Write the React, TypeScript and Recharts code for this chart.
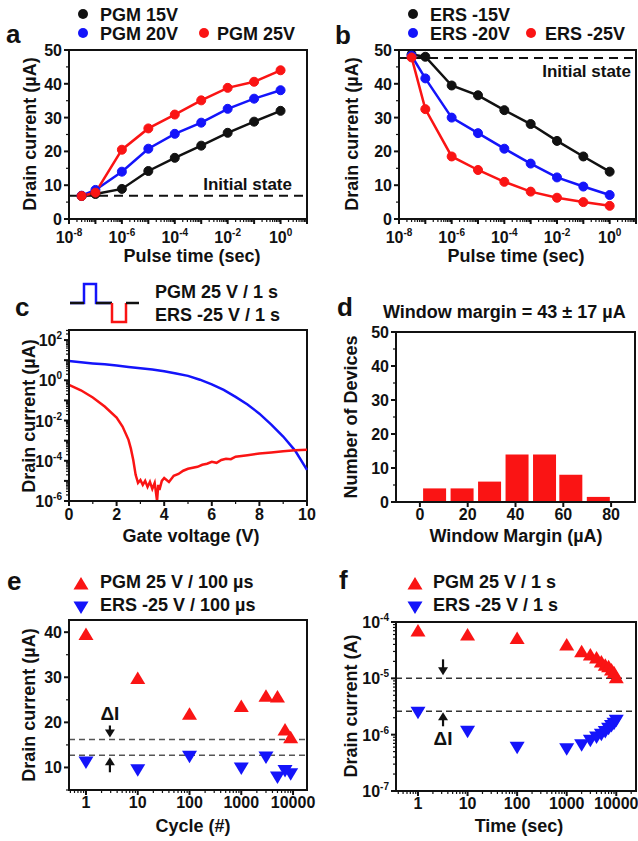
import React from 'react'
import {
  ComposedChart,
  ScatterChart,
  BarChart,
  Line,
  Scatter,
  Bar,
  XAxis,
  YAxis,
  ReferenceLine,
  ReferenceArea,
  ReferenceDot,
} from 'recharts'

const FONT = "'Liberation Sans', Arial, Helvetica, sans-serif"
const RED = '#fa1414'
const BLUE = '#1414fa'
const BLACK = '#111'

// ---- panel a / b : pulse time sweeps ----
const pulseTimes = [3e-8, 1e-7, 1e-6, 1e-5, 1e-4, 1e-3, 1e-2, 1e-1, 1]
const pgmNames = ['PGM 15V', 'PGM 20V', 'PGM 25V']
const pgm15 = [6.8, 7.4, 8.9, 14.2, 18.1, 21.7, 25.5, 28.8, 32.0]
const pgm20 = [6.9, 8.6, 14.0, 20.8, 25.2, 28.5, 32.6, 35.6, 38.1]
const pgm25 = [6.8, 7.8, 20.5, 26.8, 30.9, 35.1, 38.8, 40.6, 44.0]
const initialPgm = 6.9

const ersNames = ['ERS -15V', 'ERS -20V', 'ERS -25V']
const ers15 = [48.7, 48.0, 39.5, 36.6, 32.2, 28.1, 23.1, 18.5, 14.0]
const ers20 = [48.3, 41.6, 30.0, 25.4, 20.8, 16.4, 12.3, 9.6, 7.1]
const ers25 = [47.8, 32.5, 18.5, 14.5, 11.0, 8.1, 6.3, 5.0, 3.9]
const initialErs = 47.6

// ---- panel c : transfer curves (µA) ----
const pgmGate = [0, 0.5, 1, 1.5, 2, 2.5, 3, 3.5, 4, 4.5, 5, 5.5, 6, 6.5, 7, 7.5, 8, 8.5, 9, 9.5, 10]
const pgmCurrent = [9.1, 7.9, 6.9, 6.2, 5.4, 4.6, 4.0, 3.4, 2.8, 2.2, 1.66, 1.07, 0.63, 0.33, 0.15, 0.063, 0.022, 0.0063, 0.0016, 3.2e-4, 3.5e-5]
const ersGate = [
  0, 0.5, 1, 1.5, 2, 2.25, 2.5, 2.6, 2.7, 2.8, 2.9, 3.0, 3.1, 3.2, 3.3, 3.4, 3.5, 3.6, 3.7, 3.75, 3.8, 3.9,
  4.0, 4.2, 4.4, 4.6, 4.8, 5.0, 5.2, 5.4, 5.6, 5.8, 6.0, 6.2, 6.4, 6.6, 6.8, 7.0, 7.5, 8.0, 8.5, 9.0, 9.5, 10,
]
const ersCurrent = [
  0.59, 0.32, 0.14, 0.05, 0.014, 0.005, 1.1e-3, 4e-4, 1.1e-4, 2e-5, 7.9e-6, 1.1e-5, 6.3e-6, 1e-5, 5e-6, 8.9e-6,
  4e-6, 7.9e-6, 1e-6, 6.3e-6, 3.5e-6, 1e-5, 1.4e-5, 8.9e-6, 1.8e-5, 2.2e-5, 3.2e-5, 4e-5, 4.5e-5, 5e-5, 6.3e-5,
  7.1e-5, 8.9e-5, 7.9e-5, 1.1e-4, 1.26e-4, 1.2e-4, 1.6e-4, 1.9e-4, 2.3e-4, 2.6e-4, 3e-4, 3.3e-4, 3.5e-4,
]
const waveNames = ['PGM 25 V / 1 s', 'ERS -25 V / 1 s']

// ---- panel d : window margin histogram ----
const marginBins = [6, 17.5, 29, 40.5, 52, 63, 74.5]
const deviceCounts = [4, 4, 6, 14, 14, 8, 1.5]

// ---- panel e : endurance ----
const cycles = [1, 10, 100, 1000, 3000, 5000, 7000, 9000]
const pgmCycle = [39.5, 29.7, 21.8, 23.5, 25.8, 25.6, 18.3, 16.6]
const ersCycle = [11.2, 9.5, 12.5, 9.9, 12.3, 7.9, 9.3, 8.6]
const enduranceNames = ['PGM 25 V / 100 µs', 'ERS -25 V / 100 µs']
const enduranceLevels = [16.2, 12.7]

// ---- panel f : retention (A) ----
const times = [1, 10, 100, 1000, 2000, 3000, 4000, 5000, 6000, 7000, 8000, 9000, 10000]
const pgmRet = [6.9e-5, 5.9e-5, 5.1e-5, 3.9e-5, 2.95e-5, 2.6e-5, 2.3e-5, 1.95e-5, 1.7e-5, 1.6e-5, 1.4e-5, 1.25e-5, 1.02e-5]
const ersRet = [2.5e-6, 1.15e-6, 6e-7, 5.6e-7, 6.6e-7, 8e-7, 9.1e-7, 1.02e-6, 1.14e-6, 1.3e-6, 1.45e-6, 1.6e-6, 1.8e-6]
const retentionNames = ['PGM 25 V / 1 s', 'ERS -25 V / 1 s']
const retentionLevels = [1e-5, 2.6e-6]

// ---- helpers ----
const sweepRows = pulseTimes.map((t, i) => ({
  t, p15: pgm15[i], p20: pgm20[i], p25: pgm25[i], e15: ers15[i], e20: ers20[i], e25: ers25[i],
}))
const pgmCurve = pgmGate.map((v, i) => ({ v, i: pgmCurrent[i] }))
const ersCurve = ersGate.map((v, i) => ({ v, i: ersCurrent[i] }))
const histRows = marginBins.map((m, i) => ({ m, n: deviceCounts[i] }))
const pgmCyclePts = cycles.map((x, i) => ({ x, y: pgmCycle[i] }))
const ersCyclePts = cycles.map((x, i) => ({ x, y: ersCycle[i] }))
const pgmRetPts = times.map((x, i) => ({ x, y: pgmRet[i] }))
const ersRetPts = times.map((x, i) => ({ x, y: ersRet[i] }))

const logTicks = (lo: number, hi: number, min: number, max: number) => {
  const out: number[] = []
  for (let e = lo; e <= hi; e++) for (let k = 1; k <= 9; k++) out.push(k * 10 ** e)
  return out.filter((v) => v >= min * 0.999 && v <= max * 1.001)
}
const decade = (v: number) => {
  const e = Math.round(Math.log10(v))
  return Math.abs(v / 10 ** e - 1) < 1e-9 ? e : null
}
const pow10 = (v: number) => {
  const e = decade(v)
  return [<tspan key="b">10</tspan>, <tspan key="e" dy={-7} fontSize={10}>{e}</tspan>]
}

const tickText = { fontSize: 16, fontWeight: 700, fontFamily: FONT, fill: BLACK }

type Ax = { major: (v: number) => boolean; big?: (v: number) => boolean; label: (v: number) => React.ReactNode; dy?: number }

const bottomTick = (a: Ax) => (p: any) => {
  const v = p.payload.value
  const m = a.major(v)
  const long = m || (a.big ? a.big(v) : false)
  return (
    <g>
      <line x1={p.x} x2={p.x} y1={p.y} y2={p.y + (long ? 5 : 3)} stroke={BLACK} strokeWidth={long ? 2 : 1.2} />
      {m && (
        <text x={p.x} y={p.y + (a.dy ?? 18)} textAnchor="middle" {...tickText}>
          {a.label(v)}
        </text>
      )}
    </g>
  )
}

const leftTick = (a: Ax) => (p: any) => {
  const v = p.payload.value
  const m = a.major(v)
  const long = m || (a.big ? a.big(v) : false)
  return (
    <g>
      <line x1={p.x} x2={p.x - (long ? 5 : 3)} y1={p.y} y2={p.y} stroke={BLACK} strokeWidth={long ? 2 : 1.2} />
      {m && (
        <text x={p.x - 7} y={p.y + 6} textAnchor="end" {...tickText}>
          {a.label(v)}
        </text>
      )}
    </g>
  )
}

const axisLine = { stroke: BLACK, strokeWidth: 2 }
const linTicks = (lo: number, hi: number, step: number) => {
  const out: number[] = []
  for (let v = lo; v <= hi + 1e-9; v += step) out.push(v)
  return out
}
const every = (n: number) => (v: number) => Math.abs(v / n - Math.round(v / n)) < 1e-9

const frame = (x: [number, number], y: [number, number]) => (
  <ReferenceArea x1={x[0]} x2={x[1]} y1={y[0]} y2={y[1]} fill="none" stroke={BLACK} strokeWidth={2} ifOverflow="visible" />
)

const triangle = (color: string, up: boolean) => (p: any) => {
  const s = up ? 1 : -1
  return (
    <path
      d={`M${p.cx},${p.cy - 7 * s} L${p.cx + 7.5},${p.cy + 5.5 * s} L${p.cx - 7.5},${p.cy + 5.5 * s} Z`}
      fill={color}
    />
  )
}

const arrow = (down: boolean, len: number, gap: number, textDy?: number) => (p: any) => {
  const s = down ? -1 : 1
  const tip = p.cy + s * gap
  const tail = p.cy + s * (gap + len)
  return (
    <g>
      <line x1={p.cx} x2={p.cx} y1={tail} y2={tip + s * 5} stroke={BLACK} strokeWidth={2.2} />
      <path d={`M${p.cx - 5},${tip + s * 8} L${p.cx + 5},${tip + s * 8} L${p.cx},${tip} Z`} fill={BLACK} />
      {textDy !== undefined && (
        <text x={p.cx} y={p.cy + textDy} textAnchor="middle" fontSize={19} fontWeight={700} fontFamily={FONT} fill={BLACK}>
          ΔI
        </text>
      )}
    </g>
  )
}

// ---- panels ----
const sweepDomain: [number, number] = [1e-8, 10]
const sweepTicks = logTicks(-8, 1, 1e-8, 10)
const sweepAx: Ax = {
  major: (v) => { const e = decade(v); return e !== null && e % 2 === 0 && e <= 0 },
  big: (v) => decade(v) !== null,
  label: pow10,
  dy: 24,
}
const currentAx: Ax = { major: every(10), label: (v) => v, big: () => false }

function SweepPanel({ keys, initial, above }: { keys: string[]; initial: number; above: boolean }) {
  const colors = [BLACK, BLUE, RED]
  return (
    <ComposedChart width={320} height={270} data={sweepRows} margin={{ top: 50, right: above ? 13 : 2, left: 0, bottom: 0 }}>
      <XAxis type="number" dataKey="t" scale="log" domain={sweepDomain} ticks={sweepTicks} interval={0}
        allowDataOverflow tickSize={0} tickMargin={0} height={51} tickLine={false} axisLine={axisLine} tick={bottomTick(sweepAx)} />
      <YAxis type="number" domain={[0, 50]} ticks={linTicks(0, 50, 5)} interval={0} width={above ? 69 : 81}
        tickSize={0} tickMargin={0} tickLine={false} axisLine={axisLine} tick={leftTick(currentAx)} />
      <ReferenceLine y={initial} stroke={BLACK} strokeWidth={2} strokeDasharray="9 6"
        label={(p: any) => (
          <text x={p.viewBox.x + p.viewBox.width - (above ? 15 : 5)} y={p.viewBox.y + (above ? -6 : 19)}
            textAnchor="end" fontSize={17} fontWeight={700} fontFamily={FONT} fill={BLACK}>
            Initial state
          </text>
        )} />
      {keys.map((k, i) => (
        <Line key={k} type="linear" dataKey={k} stroke={colors[i]} strokeWidth={2.5}
          dot={{ r: 4.5, fill: colors[i], stroke: colors[i], strokeWidth: 1 }} isAnimationActive={false} />
      ))}
      {frame(sweepDomain, [0, 50])}
    </ComposedChart>
  )
}

const gateDomain: [number, number] = [1e-6, 316]
const gateAx: Ax = {
  major: (v) => { const e = decade(v); return e !== null && e % 2 === 0 },
  big: (v) => decade(v) !== null,
  label: pow10,
}

function PanelC() {
  return (
    <ComposedChart width={320} height={270} margin={{ top: 60, right: 13, left: 0, bottom: 0 }}>
      <XAxis type="number" dataKey="v" domain={[0, 10]} ticks={linTicks(0, 10, 1)} interval={0} height={39}
        tickSize={0} tickMargin={0} tickLine={false} axisLine={axisLine}
        tick={bottomTick({ major: every(2), label: (v) => v, dy: 19 })} />
      <YAxis type="number" dataKey="i" scale="log" domain={gateDomain} ticks={logTicks(-6, 2, 1e-6, 316)} interval={0}
        allowDataOverflow width={69} tickSize={0} tickMargin={0} tickLine={false} axisLine={axisLine} tick={leftTick(gateAx)} />
      <Line data={pgmCurve} type="linear" dataKey="i" stroke={BLUE} strokeWidth={2.5} dot={false} isAnimationActive={false} />
      <Line data={ersCurve} type="linear" dataKey="i" stroke={RED} strokeWidth={2.5} dot={false} isAnimationActive={false} />
      {frame([0, 10], gateDomain)}
    </ComposedChart>
  )
}

function PanelD() {
  return (
    <BarChart width={320} height={270} data={histRows} margin={{ top: 62, right: 3, left: 0, bottom: 0 }}>
      <XAxis type="number" dataKey="m" domain={[-10, 90]} ticks={[0, 20, 40, 60, 80]} interval={0} height={38}
        tickSize={0} tickMargin={0} tickLine={false} axisLine={axisLine}
        tick={bottomTick({ major: () => true, label: (v) => v, dy: 18 })} />
      <YAxis type="number" domain={[0, 50]} ticks={linTicks(0, 50, 5)} interval={0} width={78}
        tickSize={0} tickMargin={0} tickLine={false} axisLine={axisLine} tick={leftTick(currentAx)} />
      <Bar dataKey="n" fill={RED} barSize={23} isAnimationActive={false} />
      {frame([-10, 90], [0, 50])}
    </BarChart>
  )
}

const cycleDomain: [number, number] = [0.47, 18600]
const decadeAx: Ax = { major: (v) => decade(v) !== null, label: (v) => v, dy: 18 }

function PanelE() {
  return (
    <ScatterChart width={320} height={271} margin={{ top: 50, right: 13, left: 0, bottom: 0 }}>
      <XAxis type="number" dataKey="x" scale="log" domain={cycleDomain} ticks={logTicks(-1, 4, 0.47, 18600)} interval={0}
        allowDataOverflow height={51} tickSize={0} tickMargin={0} tickLine={false} axisLine={axisLine} tick={bottomTick(decadeAx)} />
      <YAxis type="number" dataKey="y" domain={[5, 42.7]} ticks={linTicks(5, 40, 5)} interval={0} allowDataOverflow width={69}
        tickSize={0} tickMargin={0} tickLine={false} axisLine={axisLine} tick={leftTick(currentAx)} />
      {enduranceLevels.map((y) => (
        <ReferenceLine key={y} y={y} stroke="#555" strokeWidth={1.5} strokeDasharray="6 4" />
      ))}
      <ReferenceDot x={2.9} y={enduranceLevels[0]} shape={arrow(true, 12, 2, -19)} />
      <ReferenceDot x={2.9} y={enduranceLevels[1]} shape={arrow(false, 15, 2)} />
      <Scatter data={pgmCyclePts} shape={triangle(RED, true)} isAnimationActive={false} />
      <Scatter data={ersCyclePts} shape={triangle(BLUE, false)} isAnimationActive={false} />
      {frame(cycleDomain, [5, 42.7])}
    </ScatterChart>
  )
}

const timeDomain: [number, number] = [0.36, 25000]
const retDomain: [number, number] = [1e-7, 1e-4]

function PanelF() {
  return (
    <ScatterChart width={320} height={271} margin={{ top: 52, right: 2, left: 0, bottom: 0 }}>
      <XAxis type="number" dataKey="x" scale="log" domain={timeDomain} ticks={logTicks(-1, 4, 0.36, 25000)} interval={0}
        allowDataOverflow height={50} tickSize={0} tickMargin={0} tickLine={false} axisLine={axisLine} tick={bottomTick(decadeAx)} />
      <YAxis type="number" dataKey="y" scale="log" domain={retDomain} ticks={logTicks(-7, -4, 1e-7, 1e-4)} interval={0}
        allowDataOverflow width={78} tickSize={0} tickMargin={0} tickLine={false} axisLine={axisLine}
        tick={leftTick({ major: (v) => decade(v) !== null, label: pow10 })} />
      {retentionLevels.map((y) => (
        <ReferenceLine key={y} y={y} stroke="#333" strokeWidth={1.5} strokeDasharray="6 4" />
      ))}
      <ReferenceDot x={3.2} y={retentionLevels[0]} shape={arrow(true, 16, 3)} />
      <ReferenceDot x={3.2} y={retentionLevels[1]} shape={arrow(false, 14, 1, 34)} />
      <Scatter data={pgmRetPts} shape={triangle(RED, true)} isAnimationActive={false} />
      <Scatter data={ersRetPts} shape={triangle(BLUE, false)} isAnimationActive={false} />
      {frame(timeDomain, retDomain)}
    </ScatterChart>
  )
}

// ---- text, legends and titles ----
function Overlay() {
  const t = { fontFamily: FONT, fontWeight: 700, fill: BLACK } as const
  const yTitle = (x: number, y: number, s: string) => (
    <text transform={`translate(${x},${y}) rotate(-90)`} textAnchor="middle" fontSize={18} {...t}>{s}</text>
  )
  const xTitle = (x: number, y: number, s: string) => (
    <text x={x} y={y} textAnchor="middle" fontSize={18} {...t}>{s}</text>
  )
  const tri = (cx: number, cy: number, color: string, up: boolean) => triangle(color, up)({ cx, cy })
  return (
    <svg width={638} height={841} style={{ position: 'absolute', left: 0, top: 0, pointerEvents: 'none' }}>
      {/* panel letters */}
      <text x={6} y={43} fontSize={26} {...t}>a</text>
      <text x={335} y={44} fontSize={26} {...t}>b</text>
      <text x={15} y={316} fontSize={26} {...t}>c</text>
      <text x={337} y={316} fontSize={26} {...t}>d</text>
      <text x={7} y={590} fontSize={26} {...t}>e</text>
      <text x={339} y={589} fontSize={26} {...t}>f</text>

      {/* legends a, b */}
      <circle cx={83} cy={14} r={5} fill={BLACK} />
      <text x={100} y={21} fontSize={18} {...t}>{pgmNames[0]}</text>
      <circle cx={83} cy={33} r={5} fill={BLUE} />
      <text x={100} y={40} fontSize={18} {...t}>{pgmNames[1]}</text>
      <circle cx={204} cy={33} r={5} fill={RED} />
      <text x={217} y={40} fontSize={18} {...t}>{pgmNames[2]}</text>

      <circle cx={413} cy={14} r={5} fill={BLACK} />
      <text x={430} y={21} fontSize={18} {...t}>{ersNames[0]}</text>
      <circle cx={413} cy={33} r={5} fill={BLUE} />
      <text x={430} y={40} fontSize={18} {...t}>{ersNames[1]}</text>
      <circle cx={531} cy={33} r={5} fill={RED} />
      <text x={545} y={40} fontSize={18} {...t}>{ersNames[2]}</text>

      {/* panel c waveform legend */}
      <polyline points="70,303 84,303 84,284 96,284 96,303 112,303" fill="none" stroke={BLUE} strokeWidth={2.5} />
      <polyline points="70,303 84,303" fill="none" stroke={BLACK} strokeWidth={2.5} />
      <polyline points="96,303 112,303" fill="none" stroke={BLACK} strokeWidth={2.5} />
      <polyline points="112,303 112,322 126,322 126,303" fill="none" stroke={RED} strokeWidth={2.5} />
      <polyline points="126,303 139,303" fill="none" stroke={BLACK} strokeWidth={2.5} />
      <text x={155} y={298} fontSize={18} {...t}>{waveNames[0]}</text>
      <text x={155} y={321} fontSize={18} {...t}>{waveNames[1]}</text>

      {/* panel d title */}
      <text x={383} y={318} fontSize={18} {...t}>Window margin = 43 ± 17 µA</text>

      {/* legends e, f */}
      {tri(81, 584, RED, true)}
      <text x={100} y={588} fontSize={18} {...t}>{enduranceNames[0]}</text>
      {tri(81, 607, BLUE, false)}
      <text x={100} y={611} fontSize={18} {...t}>{enduranceNames[1]}</text>
      {tri(415, 584, RED, true)}
      <text x={433} y={588} fontSize={18} {...t}>{retentionNames[0]}</text>
      {tri(415, 607, BLUE, false)}
      <text x={433} y={611} fontSize={18} {...t}>{retentionNames[1]}</text>

      {/* axis titles */}
      {xTitle(192, 262, 'Pulse time (sec)')}
      {xTitle(516, 262, 'Pulse time (sec)')}
      {xTitle(191, 542, 'Gate voltage (V)')}
      {xTitle(516, 542, 'Window Margin (µA)')}
      {xTitle(193, 832, 'Cycle (#)')}
      {xTitle(519, 832, 'Time (sec)')}
      {yTitle(36, 134, 'Drain current (µA)')}
      {yTitle(358, 134, 'Drain current (µA)')}
      {yTitle(35, 416, 'Drain current (µA)')}
      {yTitle(357, 417, 'Number of Devices')}
      {yTitle(35, 705, 'Drain current (µA)')}
      {yTitle(357, 706, 'Drain current (A)')}
    </svg>
  )
}

export default function App() {
  return (
    <div style={{ position: 'absolute', left: 0, top: 0, width: 638, height: 841, background: '#fff', overflow: 'hidden', fontFamily: FONT }}>
      <div style={{ position: 'absolute', left: 0, top: 0 }}>
        <SweepPanel keys={['p15', 'p20', 'p25']} initial={initialPgm} above />
      </div>
      <div style={{ position: 'absolute', left: 318, top: 0 }}>
        <SweepPanel keys={['e15', 'e20', 'e25']} initial={initialErs} above={false} />
      </div>
      <div style={{ position: 'absolute', left: 0, top: 270 }}>
        <PanelC />
      </div>
      <div style={{ position: 'absolute', left: 318, top: 270 }}>
        <PanelD />
      </div>
      <div style={{ position: 'absolute', left: 0, top: 570 }}>
        <PanelE />
      </div>
      <div style={{ position: 'absolute', left: 318, top: 570 }}>
        <PanelF />
      </div>
      <Overlay />
    </div>
  )
}
